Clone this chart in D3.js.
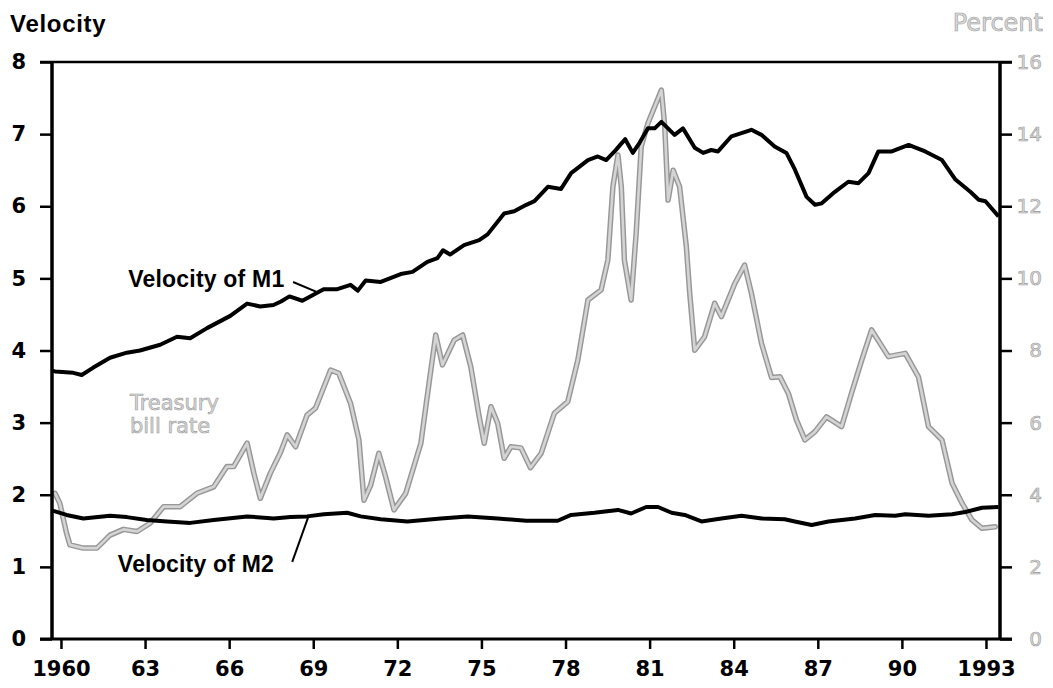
<!DOCTYPE html>
<html>
<head>
<meta charset="utf-8">
<script src="https://cdn.jsdelivr.net/npm/d3@7/dist/d3.min.js"></script>
<style>
  html, body { margin: 0; padding: 0; background: #fff; }
  svg { display: block; }
</style>
</head>
<body>
<svg id="chart" width="1053" height="688"></svg>
<script>
// ---------------- DATA ----------------
const xTickYears = [1960, 1963, 1966, 1969, 1972, 1975, 1978, 1981, 1984, 1987, 1990, 1993];
const xTickLabels = ["1960", "63", "66", "69", "72", "75", "78", "81", "84", "87", "90", "1993"];
const leftTicks = [0, 1, 2, 3, 4, 5, 6, 7, 8];
const rightTicks = [0, 2, 4, 6, 8, 10, 12, 14, 16];

const m1Years = [1959.68, 1959.79, 1960.44, 1960.74, 1961.14, 1961.75, 1962.35, 1962.82, 1963.54, 1964.14,
  1964.61, 1965.21, 1966.04, 1966.64, 1967.11, 1967.58, 1967.85, 1968.15, 1968.61, 1969.14,
  1969.37, 1969.86, 1970.33, 1970.59, 1970.87, 1971.41, 1972.12, 1972.54, 1973.07, 1973.43,
  1973.63, 1973.88, 1974.38, 1974.92, 1975.22, 1975.81, 1976.17, 1976.6, 1976.89, 1977.37,
  1977.84, 1978.20, 1978.80, 1979.15, 1979.45, 1979.75, 1980.13, 1980.40, 1980.64, 1980.94,
  1981.18, 1981.42, 1981.89, 1982.19, 1982.61, 1982.91, 1983.20, 1983.44, 1983.92, 1984.63,
  1984.99, 1985.46, 1985.88, 1986.18, 1986.60, 1986.90, 1987.14, 1987.61, 1988.09, 1988.45,
  1988.81, 1989.16, 1989.64, 1990.24, 1990.83, 1991.43, 1991.91, 1992.44, 1992.74, 1992.98, 1993.45];
const m1Values = [3.72, 3.71, 3.69, 3.66, 3.76, 3.90, 3.97, 4.00, 4.08, 4.19,
  4.17, 4.31, 4.48, 4.65, 4.61, 4.63, 4.68, 4.75, 4.69, 4.80,
  4.85, 4.85, 4.91, 4.83, 4.97, 4.95, 5.06, 5.09, 5.23, 5.28,
  5.39, 5.33, 5.46, 5.53, 5.61, 5.90, 5.93, 6.02, 6.07, 6.27,
  6.24, 6.46, 6.64, 6.69, 6.64, 6.76, 6.93, 6.74, 6.88, 7.08,
  7.08, 7.17, 6.99, 7.08, 6.81, 6.74, 6.78, 6.76, 6.97, 7.06,
  6.99, 6.83, 6.74, 6.51, 6.13, 6.02, 6.04, 6.20, 6.34, 6.32,
  6.46, 6.76, 6.76, 6.85, 6.76, 6.64, 6.37, 6.20, 6.09, 6.07, 5.86];

const m2Years = [1959.68, 1959.79, 1960.2, 1960.8, 1961.75, 1962.35, 1963.06, 1963.78, 1964.61, 1965.45,
  1966.64, 1967.59, 1968.19, 1968.78, 1969.38, 1970.21, 1970.69, 1971.41, 1972.36, 1973.55,
  1974.51, 1975.58, 1976.6, 1977.72, 1978.20, 1979.03, 1979.87, 1980.34, 1980.88, 1981.30,
  1981.78, 1982.25, 1982.85, 1983.56, 1984.28, 1985.0, 1985.82, 1986.18, 1986.78, 1987.38,
  1988.33, 1989.05, 1989.76, 1990.12, 1990.95, 1991.79, 1992.26, 1992.86, 1993.45];
const m2Values = [1.78, 1.77, 1.72, 1.67, 1.71, 1.69, 1.65, 1.63, 1.61, 1.65,
  1.70, 1.67, 1.69, 1.70, 1.73, 1.75, 1.70, 1.66, 1.63, 1.67,
  1.70, 1.67, 1.64, 1.64, 1.72, 1.75, 1.79, 1.74, 1.83, 1.83,
  1.75, 1.72, 1.63, 1.67, 1.71, 1.67, 1.66, 1.63, 1.58, 1.63,
  1.67, 1.72, 1.71, 1.73, 1.71, 1.73, 1.76, 1.82, 1.83];

const tbillYears = [1959.79, 1959.96, 1960.20, 1960.32, 1960.80, 1961.28, 1961.75, 1962.23, 1962.71, 1963.18,
  1963.66, 1964.25, 1964.85, 1965.45, 1965.92, 1966.16, 1966.64, 1966.88, 1967.11, 1967.47,
  1967.83, 1968.07, 1968.37, 1968.78, 1969.08, 1969.62, 1969.91, 1970.33, 1970.63, 1970.81,
  1971.05, 1971.34, 1971.58, 1971.88, 1972.30, 1972.84, 1973.13, 1973.37, 1973.61, 1974.03,
  1974.33, 1974.62, 1974.92, 1975.10, 1975.34, 1975.58, 1975.81, 1976.05, 1976.41, 1976.75,
  1977.13, 1977.60, 1978.08, 1978.44, 1978.80, 1979.27, 1979.51, 1979.69, 1979.87, 1979.99,
  1980.10, 1980.34, 1980.52, 1980.70, 1980.94, 1981.42, 1981.54, 1981.66, 1981.84, 1982.07,
  1982.31, 1982.43, 1982.61, 1982.96, 1983.32, 1983.56, 1984.04, 1984.39, 1984.63, 1984.99,
  1985.35, 1985.65, 1985.95, 1986.24, 1986.54, 1986.90, 1987.31, 1987.85, 1988.20, 1988.57,
  1988.92, 1989.52, 1990.12, 1990.59, 1990.95, 1991.43, 1991.79, 1992.15, 1992.50, 1992.86, 1993.33];
const tbillValues = [4.04, 3.76, 2.93, 2.61, 2.52, 2.52, 2.88, 3.04, 2.98, 3.21,
  3.67, 3.67, 4.04, 4.22, 4.78, 4.78, 5.43, 4.60, 3.90, 4.60,
  5.17, 5.66, 5.33, 6.21, 6.40, 7.46, 7.37, 6.54, 5.52, 3.85,
  4.27, 5.15, 4.50, 3.58, 4.04, 5.43, 7.09, 8.43, 7.60, 8.29,
  8.43, 7.55, 6.16, 5.43, 6.44, 5.98, 5.01, 5.33, 5.30, 4.75,
  5.15, 6.26, 6.58, 7.74, 9.40, 9.68, 10.51, 12.54, 13.42, 12.54,
  10.51, 9.40, 11.25, 13.65, 14.30, 15.22, 14.21, 12.17, 13.00, 12.54,
  10.88, 9.59, 8.01, 8.38, 9.31, 8.94, 9.86, 10.37, 9.59, 8.20,
  7.25, 7.27, 6.81, 6.07, 5.52, 5.75, 6.16, 5.89, 6.81, 7.74,
  8.57, 7.83, 7.92, 7.27, 5.89, 5.52, 4.32, 3.76, 3.30, 3.07, 3.11];

// ---------------- LAYOUT ----------------
const L = 52, R = 1000, T = 62, B = 639;
const svg = d3.select("#chart");

const x = d3.scaleLinear().domain([1959.68, 1993.5]).range([L, R]);
const yL = d3.scaleLinear().domain([0, 8]).range([B, T]);
const yR = d3.scaleLinear().domain([0, 16]).range([B, T]);

const numFont = "'DejaVu Sans', sans-serif";
const txtFont = "'Liberation Sans', Arial, sans-serif";

// ---------------- SERIES ----------------
const lineL = d3.line().x(d => x(d[0])).y(d => yL(d[1]));
const lineR = d3.line().x(d => x(d[0])).y(d => yR(d[1]));

const tbill = d3.zip(tbillYears, tbillValues);
svg.append("path").datum(tbill).attr("d", lineR)
  .attr("fill", "none").attr("stroke", "#979797").attr("stroke-width", 5.5)
  .attr("stroke-linejoin", "round").attr("stroke-linecap", "round");
svg.append("path").datum(tbill).attr("d", lineR)
  .attr("fill", "none").attr("stroke", "#d4d4d4").attr("stroke-width", 2.6)
  .attr("stroke-linejoin", "round").attr("stroke-linecap", "round");

svg.append("path").datum(d3.zip(m1Years, m1Values)).attr("d", lineL)
  .attr("fill", "none").attr("stroke", "#000").attr("stroke-width", 4)
  .attr("stroke-linejoin", "round");
svg.append("path").datum(d3.zip(m2Years, m2Values)).attr("d", lineL)
  .attr("fill", "none").attr("stroke", "#000").attr("stroke-width", 4)
  .attr("stroke-linejoin", "round");

// ---------------- AXES ----------------
svg.append("line").attr("x1", L - 12).attr("x2", R + 12).attr("y1", T).attr("y2", T)
  .attr("stroke", "#000").attr("stroke-width", 2.5);
svg.append("line").attr("x1", L - 12).attr("x2", R + 12).attr("y1", B).attr("y2", B)
  .attr("stroke", "#000").attr("stroke-width", 3);
svg.append("line").attr("x1", L).attr("x2", L).attr("y1", T).attr("y2", B)
  .attr("stroke", "#000").attr("stroke-width", 3.5);
svg.append("line").attr("x1", R).attr("x2", R).attr("y1", T).attr("y2", B)
  .attr("stroke", "#000").attr("stroke-width", 3.5);

const gL = svg.append("g").attr("transform", `translate(${L},0)`)
  .call(d3.axisLeft(yL).tickValues(leftTicks).tickSize(12).tickPadding(14).tickFormat(d3.format("d")));
gL.select(".domain").remove();
gL.selectAll(".tick line").attr("stroke", "#000").attr("stroke-width", 2.5);
gL.selectAll(".tick text").attr("font-family", numFont).attr("font-weight", "bold")
  .attr("font-size", 21).attr("fill", "#000");

const gR = svg.append("g").attr("transform", `translate(${R},0)`)
  .call(d3.axisRight(yR).tickValues(rightTicks).tickSize(12).tickPadding(14).tickFormat(d3.format("d")));
gR.select(".domain").remove();
gR.selectAll(".tick line").attr("stroke", "#000").attr("stroke-width", 2.5);
gR.selectAll(".tick text").attr("font-family", numFont).attr("font-size", 20)
  .attr("text-anchor", "end").attr("x", 42)
  .attr("fill", "#dadada").attr("stroke", "#999").attr("stroke-width", 0.6);

const gB = svg.append("g").attr("transform", `translate(0,${B})`)
  .call(d3.axisBottom(x).tickValues(xTickYears).tickSize(10).tickPadding(12)
    .tickFormat((d, i) => xTickLabels[i]));
gB.select(".domain").remove();
gB.selectAll(".tick line").attr("stroke", "#000").attr("stroke-width", 2.5);
gB.selectAll(".tick text").attr("font-family", numFont).attr("font-weight", "bold")
  .attr("font-size", 21).attr("fill", "#000");

// ---------------- TITLES ----------------
svg.append("text").attr("x", 10).attr("y", 32).text("Velocity")
  .attr("font-family", txtFont).attr("font-weight", "bold").attr("font-size", 24)
  .attr("letter-spacing", 0.7).attr("fill", "#000");
svg.append("text").attr("x", 1043).attr("y", 31).attr("text-anchor", "end").text("Percent")
  .attr("font-family", numFont).attr("font-size", 24)
  .attr("fill", "#dadada").attr("stroke", "#999").attr("stroke-width", 0.6);

// ---------------- ANNOTATIONS ----------------
const annoM1 = { year: 1962.4, value: 4.88, from: [1968.28, 4.95], to: [1969.14, 4.81] };
const annoM2 = { year: 1962.03, value: 0.93, from: [1968.25, 1.07], to: [1968.82, 1.69] };
const annoTB = { year: 1962.46, value: 6.35 };

svg.append("text").attr("x", x(annoM1.year)).attr("y", yL(annoM1.value)).text("Velocity of M1")
  .attr("font-family", txtFont).attr("font-weight", "bold").attr("font-size", 23)
  .attr("letter-spacing", 0.2).attr("fill", "#000");
svg.append("line").attr("x1", x(annoM1.from[0])).attr("y1", yL(annoM1.from[1]))
  .attr("x2", x(annoM1.to[0])).attr("y2", yL(annoM1.to[1]))
  .attr("stroke", "#000").attr("stroke-width", 2);

svg.append("text").attr("x", x(annoM2.year)).attr("y", yL(annoM2.value)).text("Velocity of M2")
  .attr("font-family", txtFont).attr("font-weight", "bold").attr("font-size", 23)
  .attr("letter-spacing", 0.2).attr("fill", "#000");
svg.append("line").attr("x1", x(annoM2.from[0])).attr("y1", yL(annoM2.from[1]))
  .attr("x2", x(annoM2.to[0])).attr("y2", yL(annoM2.to[1]))
  .attr("stroke", "#000").attr("stroke-width", 2);

const tb = svg.append("text").attr("font-family", numFont).attr("font-size", 21)
  .attr("fill", "#dadada").attr("stroke", "#999").attr("stroke-width", 0.6);
tb.append("tspan").attr("x", x(annoTB.year)).attr("y", yR(annoTB.value)).text("Treasury");
tb.append("tspan").attr("x", x(annoTB.year)).attr("dy", 23).text("bill rate");
</script>
</body>
</html>
